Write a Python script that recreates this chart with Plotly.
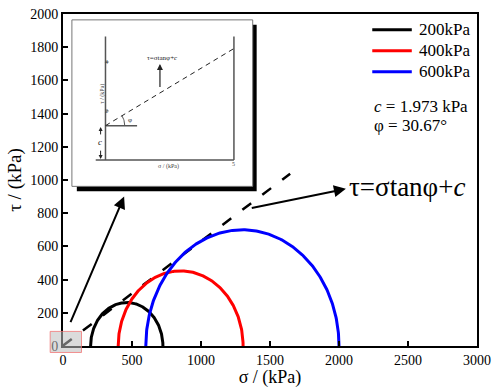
import numpy as np
import plotly.graph_objects as go

# ---------------- data ----------------
confining = ["200kPa", "400kPa", "600kPa"]
sigma3 = [200, 400, 600]          # kPa, left end of each Mohr circle
sigma1 = [724, 1305, 2000]        # kPa, right end of each Mohr circle
colors = ["#000000", "#ff0000", "#0000ff"]

c_kpa = 1.973
phi_deg = 30.67
# strength envelope as drawn in the figure
envelope_sigma = [0, 1646]
envelope_tau = [2, 1038]

x_ticks = [0, 500, 1000, 1500, 2000, 2500, 3000]
y_ticks = [0, 200, 400, 600, 800, 1000, 1200, 1400, 1600, 1800, 2000]
x_range = [0, 3000]
y_range = [0, 2000]

# arrows (tail -> head) in data units
arrow1_tail = [50, 135]
arrow1_head = [443, 900]
arrow2_tail = [1357, 829]
arrow2_head = [2050, 947]
eq_label_pos = [2060, 959]

# zoom box around the origin (data units)
zoom_box_x = [-93, 134]
zoom_box_y = [-39, 88]

# inset schematic (its own units)
inset_c = 1.4
inset_slope = 0.63
inset_sigma_max = 5
inset_tau_max = 5.04
inset_ticks = [2, 4]

# ---------------- layout geometry ----------------
W, H = 498, 388
ML, MR, MT, MB = 63, 16, 7, 42
PW, PH = W - ML - MR, H - MT - MB


def px_x(p):
    return (p - ML) / PW


def px_y(p):
    return (H - MB - p) / PH


def dx(v):
    return (v - x_range[0]) / (x_range[1] - x_range[0])


def dy(v):
    return (v - y_range[0]) / (y_range[1] - y_range[0])


FONT = "Liberation Serif"

fig = go.Figure()

# strength envelope
fig.add_trace(go.Scatter(x=envelope_sigma, y=envelope_tau, mode="lines",
                         line=dict(color="black", width=2.5, dash="11px,14px"),
                         showlegend=False, hoverinfo="skip"))

# Mohr circles
theta = np.linspace(np.pi, 0, 241)
for name, s3, s1, col in zip(confining, sigma3, sigma1, colors):
    cen = (s1 + s3) / 2
    r = (s1 - s3) / 2
    fig.add_trace(go.Scatter(x=cen + r * np.cos(theta), y=r * np.sin(theta),
                             mode="lines", name=name, showlegend=False,
                             line=dict(color=col, width=3)))

# ---------------- inset schematic (x2/y2) ----------------
in_x0, in_x1, in_y0, in_y1 = 72, 255, 13, 183   # inset box pixels
unit_x, unit_y = 26, 25
org_px, org_py = 106, 156
ix_range = [(in_x0 - org_px) / unit_x, (in_x1 - org_px) / unit_x]
iy_range = [(org_py - in_y1) / unit_y, (org_py - in_y0) / unit_y]

gray = "#555555"
inset_lines = [
    ([0, 0], [0, inset_tau_max]),
    ([-0.38, inset_sigma_max], [0, 0]),
    ([inset_sigma_max, inset_sigma_max], [0, inset_tau_max]),
    ([0, 1.23], [inset_c, inset_c]),
]
for xs, ys in inset_lines:
    fig.add_trace(go.Scatter(x=xs, y=ys, mode="lines", xaxis="x2", yaxis="y2",
                             line=dict(color=gray, width=1.5),
                             showlegend=False, hoverinfo="skip"))
for t in inset_ticks:
    fig.add_trace(go.Scatter(x=[0, 0.12], y=[t, t], mode="lines", xaxis="x2", yaxis="y2",
                             line=dict(color=gray, width=1),
                             showlegend=False, hoverinfo="skip"))
fig.add_trace(go.Scatter(x=[0, inset_sigma_max],
                         y=[inset_c, inset_c + inset_slope * inset_sigma_max],
                         mode="lines", xaxis="x2", yaxis="y2",
                         line=dict(color="#222222", width=1, dash="5px,4px"),
                         showlegend=False, hoverinfo="skip"))
ang = np.arctan(inset_slope * unit_y / unit_x)
arc_t = np.linspace(0, ang, 20)
fig.add_trace(go.Scatter(x=0.75 * np.cos(arc_t), y=inset_c + 0.75 * np.sin(arc_t) * unit_x / unit_y,
                         mode="lines", xaxis="x2", yaxis="y2",
                         line=dict(color=gray, width=1),
                         showlegend=False, hoverinfo="skip"))

shapes = [
    # inset shadow
    dict(type="rect", xref="paper", yref="paper", layer="below",
         x0=px_x(in_x0 + 5), x1=px_x(in_x1 + 4), y0=px_y(in_y1 + 5), y1=px_y(in_y0 + 5),
         fillcolor="black", line=dict(width=0)),
    # inset box
    dict(type="rect", xref="paper", yref="paper", layer="below",
         x0=px_x(in_x0), x1=px_x(in_x1), y0=px_y(in_y1), y1=px_y(in_y0),
         fillcolor="white", line=dict(color="#777777", width=1)),
    # zoom box at the origin
    dict(type="rect", xref="paper", yref="paper", layer="above",
         x0=dx(zoom_box_x[0]), x1=dx(zoom_box_x[1]),
         y0=dy(zoom_box_y[0]), y1=dy(zoom_box_y[1]),
         fillcolor="rgba(190,190,190,0.55)", line=dict(color="rgba(240,110,110,0.75)", width=1)),
]

small = dict(family=FONT, size=6, color="#444444")
annotations = [
    dict(x=arrow1_head[0], y=arrow1_head[1], ax=arrow1_tail[0], ay=arrow1_tail[1],
         xref="x", yref="y", axref="x", ayref="y", text="", showarrow=True,
         arrowhead=2, arrowsize=1.2, arrowwidth=2, arrowcolor="black"),
    dict(x=arrow2_head[0], y=arrow2_head[1], ax=arrow2_tail[0], ay=arrow2_tail[1],
         xref="x", yref="y", axref="x", ayref="y", text="", showarrow=True,
         arrowhead=2, arrowsize=1.2, arrowwidth=2, arrowcolor="black"),
    dict(x=eq_label_pos[0], y=eq_label_pos[1], xref="x", yref="y",
         text="τ=σtanφ+<i>c</i>", showarrow=False, xanchor="left", yanchor="middle",
         font=dict(family=FONT, size=27, color="black")),
    dict(x=px_x(376), y=px_y(101), xref="paper", yref="paper",
         text=f"<i>c</i> = {c_kpa:.3f} kPa", showarrow=False, xanchor="left", yanchor="middle",
         font=dict(family=FONT, size=17, color="black")),
    dict(x=px_x(376), y=px_y(121), xref="paper", yref="paper",
         text=f"φ = {phi_deg:.2f}°", showarrow=False, xanchor="left", yanchor="middle",
         font=dict(family=FONT, size=17, color="black")),
    # inset texts and arrows
    dict(x=2.12, y=3.92, ax=2.12, ay=2.92, xref="x2", yref="y2", axref="x2", ayref="y2",
         text="", showarrow=True, arrowhead=2, arrowsize=1, arrowwidth=1.2, arrowcolor="#222222"),
    dict(x=2.23, y=4.18, xref="x2", yref="y2", text="τ=σtanφ+<i>c</i>", showarrow=False,
         font=dict(family=FONT, size=7, color="#222222")),
    dict(x=-0.19, y=1.34, ax=-0.19, ay=0.98, xref="x2", yref="y2", axref="x2", ayref="y2",
         text="", showarrow=True, arrowhead=2, arrowsize=0.8, arrowwidth=1, arrowcolor="#222222"),
    dict(x=-0.19, y=0.04, ax=-0.19, ay=0.44, xref="x2", yref="y2", axref="x2", ayref="y2",
         text="", showarrow=True, arrowhead=2, arrowsize=0.8, arrowwidth=1, arrowcolor="#222222"),
    dict(x=-0.2, y=0.72, xref="x2", yref="y2", text="<i>c</i>", showarrow=False,
         font=dict(family=FONT, size=9, color="#222222")),
    dict(x=0.95, y=1.62, xref="x2", yref="y2", text="φ", showarrow=False,
         font=dict(family=FONT, size=7, color="#222222")),
    dict(x=2.46, y=-0.28, xref="x2", yref="y2", text="σ / (kPa)", showarrow=False, font=small),
    dict(x=inset_sigma_max, y=-0.17, xref="x2", yref="y2", text="5", showarrow=False, font=small),
    dict(x=-0.12, y=2.72, xref="x2", yref="y2", text="τ / (kPa)", showarrow=False,
         textangle=-90, font=small),
]
for t in inset_ticks:
    annotations.append(dict(x=0.02, y=t, xref="x2", yref="y2", text=str(t), showarrow=False,
                            font=small))

# legend (line sample + label per series), placed top-right
leg_line_x = [376, 416]
leg_text_x = 421
leg_rows_y = [23, 44.5, 66]
for name, col, ry in zip(confining, colors, leg_rows_y):
    shapes.append(dict(type="line", xref="paper", yref="paper",
                       x0=px_x(leg_line_x[0]), x1=px_x(leg_line_x[1]),
                       y0=px_y(ry), y1=px_y(ry), line=dict(color=col, width=3)))
    annotations.append(dict(x=px_x(leg_text_x), y=px_y(ry), xref="paper", yref="paper",
                            text=name, showarrow=False, xanchor="left", yanchor="middle",
                            font=dict(family=FONT, size=17, color="black")))

axis_common = dict(showline=True, linecolor="black", linewidth=1.8, mirror=True,
                   ticks="inside", ticklen=5, tickwidth=1.5, tickcolor="black",
                   showgrid=False, zeroline=False,
                   tickfont=dict(family=FONT, size=14, color="black"))

fig.update_layout(
    width=W, height=H,
    margin=dict(l=ML, r=MR, t=MT, b=MB),
    paper_bgcolor="white", plot_bgcolor="rgba(0,0,0,0)",
    showlegend=False,
    xaxis=dict(range=x_range, tickvals=x_ticks, **axis_common,
               title=dict(text="σ / (kPa)", font=dict(family=FONT, size=18, color="black"),
                          standoff=1)),
    yaxis=dict(range=y_range, tickvals=y_ticks, **axis_common,
               title=dict(text="τ / (kPa)", font=dict(family=FONT, size=19, color="black"),
                          standoff=4)),
    xaxis2=dict(domain=[px_x(in_x0), px_x(in_x1)], range=ix_range, anchor="y2", visible=False),
    yaxis2=dict(domain=[px_y(in_y1), px_y(in_y0)], range=iy_range, anchor="x2", visible=False),
    shapes=shapes,
    annotations=annotations,
)

fig.write_html("out.html", config={"displayModeBar": False},
               post_script="document.body.style.margin='0px';")
